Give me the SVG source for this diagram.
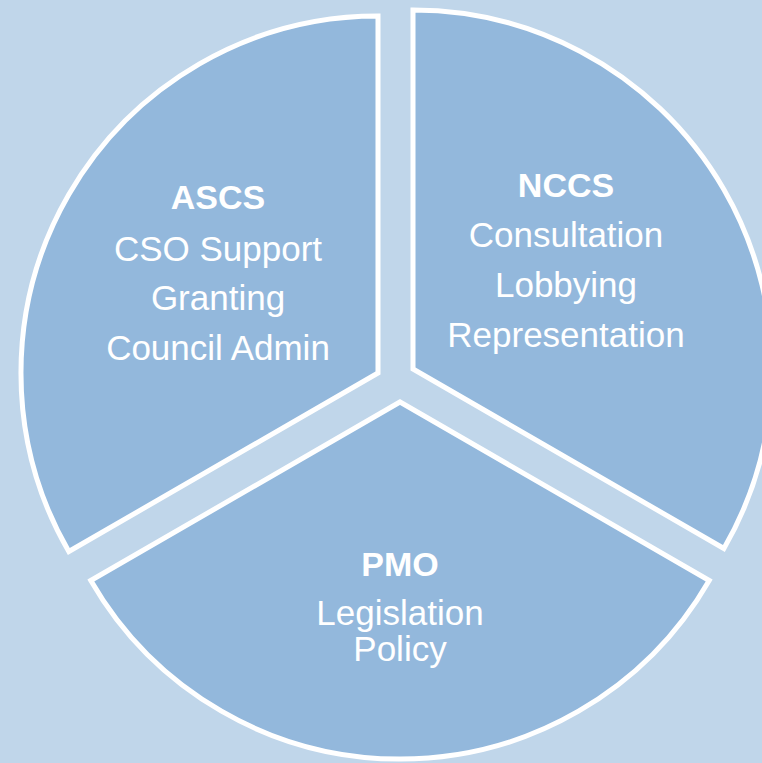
<svg xmlns="http://www.w3.org/2000/svg" width="762" height="763" viewBox="0 0 762 763">
<style>
.seg{fill:#93B8DC;stroke:#FFFFFF;stroke-width:5;stroke-linejoin:miter}
.t{font-family:"Liberation Sans",Arial,sans-serif;fill:#FFFFFF;text-anchor:middle;font-size:35px}
.b{font-weight:bold;font-size:34px}
</style>
<rect width="762" height="763" fill="#C0D6EA"/>
<g id="ascs">
<path class="seg" d="M378,373 L378,16 A357,357 0 0,0 68.8,551.5 Z"/>
<text class="t b" x="218" y="209">ASCS</text>
<text class="t" x="218" y="261">CSO Support</text>
<text class="t" x="218" y="310">Granting</text>
<text class="t" x="218" y="360">Council Admin</text>
</g>
<g id="nccs">
<path class="seg" d="M413,369 L413,10 A359,359 0 0,1 723.9,548.5 Z"/>
<text class="t b" x="566" y="197">NCCS</text>
<text class="t" x="566" y="247">Consultation</text>
<text class="t" x="566" y="297">Lobbying</text>
<text class="t" x="566" y="347">Representation</text>
</g>
<g id="pmo">
<path class="seg" d="M400,402 L709.2,580.5 A357,357 0 0,1 90.8,580.5 Z"/>
<text class="t b" x="400" y="576">PMO</text>
<text class="t" x="400" y="625">Legislation</text>
<text class="t" x="400" y="661">Policy</text>
</g>
<g id="connectors"/>
</svg>
